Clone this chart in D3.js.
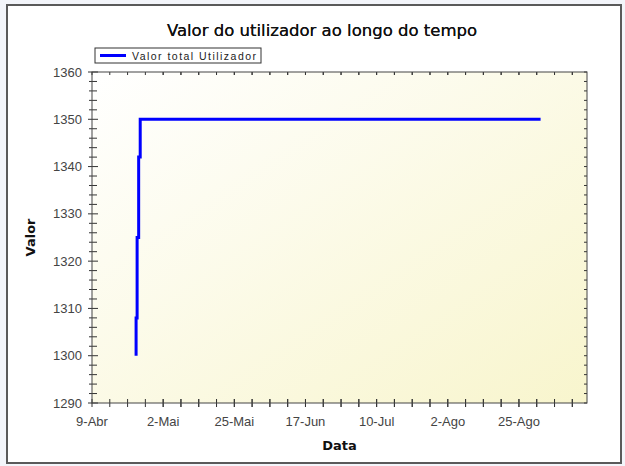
<!DOCTYPE html>
<html>
<head>
<meta charset="utf-8">
<script src="https://cdn.jsdelivr.net/npm/d3@7"></script>
<style>
  body { margin: 0; background: #f3f5fa; }
  text { font-family: "DejaVu Sans", Verdana, sans-serif; }
  .lab { font-family: "Liberation Sans", Arial, sans-serif; }
</style>
</head>
<body>
<div id="chart"></div>
<script>
// data
var dates = ["2008-04-23T06:00", "2008-04-23T14:00", "2008-04-24T02:00", "2008-04-24T14:00", "2008-04-24T16:00", "2008-09-01T00:00"];
var values = [1300, 1308, 1325, 1342, 1350, 1350];
var xTickLabels = ["9-Abr", "2-Mai", "25-Mai", "17-Jun", "10-Jul", "2-Ago", "25-Ago"];
var xTickDates = ["2008-04-09", "2008-05-02", "2008-05-25", "2008-06-17", "2008-07-10", "2008-08-02", "2008-08-25"];
var yTicks = [1290, 1300, 1310, 1320, 1330, 1340, 1350, 1360];

var width = 625;
var height = 466;
var margin = { top: 72, left: 92, right: 38, bottom: 63 };
var w = width - margin.left - margin.right;
var h = height - margin.top - margin.bottom;

var parse = d3.isoParse;
var data = dates.map(function(d, i) { return { date: parse(d), value: values[i] }; });

var svg = d3.select('#chart')
  .append('svg')
  .attr('width', width)
  .attr('height', height);

// outer frame
svg.append('rect')
  .attr('x', 7).attr('y', 5)
  .attr('width', 614).attr('height', 458)
  .attr('fill', '#fff')
  .attr('stroke', '#5a5a5a')
  .attr('stroke-width', 2);

var grad = svg.append('defs').append('linearGradient')
  .attr('id', 'bg')
  .attr('x1', '0%').attr('y1', '0%')
  .attr('x2', '100%').attr('y2', '100%');
grad.append('stop').attr('offset', '0%').attr('stop-color', '#ffffff');
grad.append('stop').attr('offset', '100%').attr('stop-color', '#f8f5cd');

var g = svg.append('g')
  .attr('transform', 'translate(' + margin.left + ',' + margin.top + ')');

var x = d3.scaleTime()
  .domain([parse("2008-04-09"), parse("2008-09-16")])
  .range([0, w]);

var y = d3.scaleLinear()
  .domain([1290, 1360])
  .range([h, 0]);

g.append('rect')
  .attr('width', w).attr('height', h)
  .attr('fill', 'url(#bg)');

// minor ticks
var xMinor = [];
xTickDates.forEach(function(d) {
  var t = parse(d);
  for (var k = 0; k < 8; k++) {
    var m = new Date(t.getTime() + k * 23 / 4 * 864e5);
    if (x(m) <= w) xMinor.push(m);
  }
});
var yMinor = d3.range(1290, 1361, 2);

var tickColor = '#333';

// left ticks (crossing)
g.selectAll('.ytick').data(yMinor).enter().append('line')
  .attr('x1', function(d) { return d % 10 === 0 ? -4 : -3; })
  .attr('x2', function(d) { return d % 10 === 0 ? 6 : 5; })
  .attr('y1', function(d) { return y(d); })
  .attr('y2', function(d) { return y(d); })
  .attr('stroke', tickColor);

// right ticks (inside)
g.selectAll('.rtick').data(yMinor).enter().append('line')
  .attr('x1', w - 3).attr('x2', w)
  .attr('y1', function(d) { return y(d); })
  .attr('y2', function(d) { return y(d); })
  .attr('stroke', tickColor);

// bottom ticks (crossing)
g.selectAll('.xtick').data(xMinor).enter().append('line')
  .attr('x1', function(d) { return x(d); })
  .attr('x2', function(d) { return x(d); })
  .attr('y1', h - 4)
  .attr('y2', h + 4)
  .attr('stroke', tickColor);

// top ticks (inside)
g.selectAll('.ttick').data(xMinor).enter().append('line')
  .attr('x1', function(d) { return x(d); })
  .attr('x2', function(d) { return x(d); })
  .attr('y1', 0).attr('y2', 3)
  .attr('stroke', tickColor);

g.append('rect')
  .attr('width', w).attr('height', h)
  .attr('fill', 'none')
  .attr('stroke', '#444');

// y labels
g.selectAll('.ylab').data(yTicks).enter().append('text')
  .attr('class', 'lab')
  .attr('x', -10)
  .attr('y', function(d) { return y(d); })
  .attr('dy', '0.35em')
  .attr('text-anchor', 'end')
  .attr('font-size', 13)
  .attr('fill', '#444')
  .text(function(d) { return d; });

// x labels
g.selectAll('.xlab').data(xTickDates).enter().append('text')
  .attr('class', 'lab')
  .attr('x', function(d) { return x(parse(d)); })
  .attr('y', h + 23)
  .attr('text-anchor', 'middle')
  .attr('font-size', 13)
  .attr('fill', '#444')
  .text(function(d, i) { return xTickLabels[i]; });

// line
var line = d3.line()
  .curve(d3.curveStepBefore)
  .x(function(d) { return x(d.date); })
  .y(function(d) { return y(d.value); });

g.append('path')
  .datum(data)
  .attr('fill', 'none')
  .attr('stroke', '#0000ff')
  .attr('stroke-width', 3)
  .attr('d', line);

// title
svg.append('text')
  .attr('x', 322).attr('y', 36)
  .attr('text-anchor', 'middle')
  .attr('font-size', 16.5)
  .attr('fill', '#111')
  .style('text-shadow', '0 0 0.4px #111')
  .text('Valor do utilizador ao longo do tempo');

// axis titles
svg.append('text')
  .attr('transform', 'translate(35,' + (margin.top + h / 2) + ') rotate(-90)')
  .attr('text-anchor', 'middle')
  .attr('font-size', 13)
  .attr('font-weight', 'bold')
  .attr('fill', '#111')
  .text('Valor');

svg.append('text')
  .attr('x', margin.left + w / 2)
  .attr('y', 450)
  .attr('text-anchor', 'middle')
  .attr('font-size', 13)
  .attr('font-weight', 'bold')
  .attr('fill', '#111')
  .text('Data');

// legend
var legend = svg.append('g').attr('transform', 'translate(95,48)');
legend.append('rect')
  .attr('width', 166).attr('height', 15)
  .attr('fill', '#fff')
  .attr('stroke', '#333');
legend.append('line')
  .attr('x1', 5).attr('x2', 31)
  .attr('y1', 7.5).attr('y2', 7.5)
  .attr('stroke', '#0000ff')
  .attr('stroke-width', 3);
legend.append('text')
  .attr('class', 'lab')
  .attr('x', 37).attr('y', 11.5)
  .attr('font-size', 10.5)
  .attr('textLength', 124)
  .attr('lengthAdjust', 'spacing')
  .attr('fill', '#222')
  .text('Valor total Utilizador');
</script>
</body>
</html>
